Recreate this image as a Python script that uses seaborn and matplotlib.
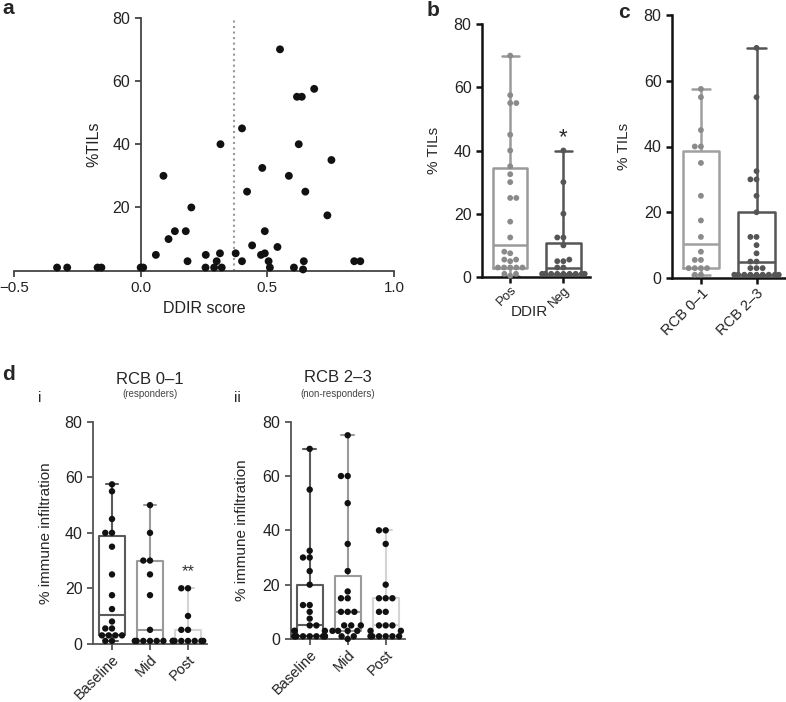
import matplotlib
matplotlib.use("Agg")
import pandas as pd
import matplotlib.pyplot as plt
import seaborn as sns

# panel a: DDIR score vs %TILs
ddir_score = [-0.33, -0.29, -0.17, -0.155, 0.0, 0.01, 0.06, 0.09, 0.11, 0.135, 0.178, 0.185, 0.20,
              0.257, 0.256, 0.29, 0.30, 0.313, 0.32, 0.315, 0.375, 0.40, 0.40, 0.42, 0.44, 0.475,
              0.49, 0.48, 0.49, 0.505, 0.51, 0.54, 0.55, 0.585, 0.605, 0.617, 0.636, 0.624, 0.644,
              0.641, 0.65, 0.685, 0.737, 0.753, 0.843, 0.867]
tils = [1, 1, 1, 1, 1, 1, 5, 30, 10, 12.5, 12.5, 3, 20,
        5, 1, 1, 3, 5.5, 1, 40, 5.5, 45, 3, 25, 8, 5,
        5.5, 32.5, 12.5, 3, 1, 7.5, 70, 30, 1, 55, 55, 40, 3,
        0.4, 25, 57.5, 17.5, 35, 3, 3]
ddir_cut = 0.37

# panels c / d: %TILs by response group and timepoint
rcb01_baseline = [57.5, 55, 45, 40, 40, 35, 25, 17.5, 12.5, 8, 5.5, 5.5, 3, 3, 3, 3, 1, 1]
rcb01_mid = [50, 40, 30, 30, 25, 17.5, 5, 1, 1, 1, 1, 1, 1]
rcb01_post = [20, 20, 10, 5, 5, 1, 1, 1, 1, 1, 1, 1, 1]
rcb23_baseline = [70, 55, 32.5, 30, 30, 25, 20, 12.5, 12.5, 10, 7.5, 5, 5, 3, 3, 3,
                  1, 1, 1, 1, 1, 1, 1, 1, 1]
rcb23_mid = [75, 60, 60, 50, 35, 25, 17.5, 15, 15, 10, 10, 10, 5, 5, 5, 3, 3, 3, 3, 1, 1, 0]
rcb23_post = [40, 40, 35, 20, 15, 15, 15, 10, 10, 5, 5, 5, 3, 3, 1, 1, 1, 1, 1, 1]

ddir_labels = ["Pos", "Neg"]
rcb_labels = ["RCB 0\u20131", "RCB 2\u20133"]
time_labels = ["Baseline", "Mid", "Post"]

sns.set_style("ticks")
plt.rcParams["font.family"] = ["Liberation Sans", "DejaVu Sans"]

W, H = 786, 702
fig = plt.figure(figsize=(W / 100, H / 100), dpi=100)


def axes_px(left, top, right, bottom):
    return fig.add_axes([left / W, 1 - bottom / H, (right - left) / W, (bottom - top) / H])


def tidy(ax, color, lw, size=11.5):
    sns.despine(ax=ax)
    for s in ["left", "bottom"]:
        ax.spines[s].set_color(color)
        ax.spines[s].set_linewidth(lw)
    ax.tick_params(color=color, width=lw, length=4, labelsize=size, labelcolor="#222222")
    ax.set_ylim(0, 80)
    ax.set_yticks([0, 20, 40, 60, 80])


def box_panel(ax, data, order, box_colors, dot_colors, lw, dot_size, width=0.65):
    groups, values = [], []
    for name, vals in zip(order, data):
        groups += [name] * len(vals)
        values += list(vals)
    df = pd.DataFrame({"group": groups, "value": values})
    sns.boxplot(data=df, x="group", y="value", hue="group", order=order, hue_order=order,
                palette=box_colors, fill=False, width=width, whis=(0, 100), linewidth=lw,
                legend=False, ax=ax, zorder=1)
    sns.swarmplot(data=df, x="group", y="value", hue="group", order=order, hue_order=order,
                  palette=dot_colors, size=dot_size, legend=False, ax=ax, zorder=3)
    for c in ax.collections:
        c.set_clip_on(False)
    for ln in ax.lines:
        ln.set_clip_on(False)
    ax.set_xlabel("")


def rotate(ax, size, pad=2):
    ax.tick_params(axis="x", labelsize=size, pad=pad)
    plt.setp(ax.get_xticklabels(), rotation=45, ha="right", rotation_mode="anchor")


# ---- a ----
ax = axes_px(14, 17.7, 394, 270.7)
sns.scatterplot(x=ddir_score, y=tils, color="#111111", s=32, edgecolor="none", ax=ax,
                clip_on=False, zorder=3)
ax.axvline(ddir_cut, color="#999999", ls=":", lw=1.5, zorder=1)
ax.set_xlim(-0.5, 1.0)
tidy(ax, "#444444", 1.3, size=11.5)
ax.tick_params(axis="x", labelsize=10.8)
ax.set_yticks([20, 40, 60, 80])
ax.spines["left"].set_position(("data", 0))
ax.set_xticks([-0.5, 0.0, 0.5, 1.0])
ax.set_xlabel("DDIR score", fontsize=11.5, color="#222222")
ax.set_ylabel("%TILs", fontsize=11.5, color="#222222")
ax.yaxis.set_label_coords(0.229, 0.5)

# ---- b ----
pos = [t for s, t in zip(ddir_score, tils) if s > ddir_cut]
neg = [t for s, t in zip(ddir_score, tils) if s <= ddir_cut]
ax = axes_px(482, 24, 590, 277)
box_panel(ax, [pos, neg], ddir_labels, ["#9a9a9a", "#555555"], ["#8a8a8a", "#555555"], 1.8, 4.2)
tidy(ax, "#111111", 1.8)
ax.set_xlim(-0.53, 1.5)
ax.set_xlabel("DDIR", fontsize=11)
ax.xaxis.set_label_coords(0.44, -0.11)
ax.set_ylabel("% TILs", fontsize=11)
ax.yaxis.set_label_coords(-0.38, 0.5)
ax.text(1, 44, "*", ha="center", va="center", fontsize=16)
rotate(ax, 9.5, pad=1)

# ---- c ----
ax = axes_px(672, 15, 786, 278)
box_panel(ax, [rcb01_baseline, rcb23_baseline], rcb_labels, ["#a0a0a0", "#555555"],
          ["#8a8a8a", "#555555"], 1.8, 4.2)
tidy(ax, "#111111", 1.8)
ax.set_xlim(-0.52, 1.53)
ax.set_ylabel("% TILs", fontsize=11)
ax.yaxis.set_label_coords(-0.36, 0.5)
rotate(ax, 10.5)

# ---- d ----
d_colors = ["#5a5a5a", "#9a9a9a", "#d4d4d4"]
ax = axes_px(93, 422, 207, 643.7)
box_panel(ax, [rcb01_baseline, rcb01_mid, rcb01_post], time_labels, d_colors,
          ["#111111"] * 3, 1.5, 4.6, width=0.68)
tidy(ax, "#555555", 1.3)
ax.set_xlim(-0.5, 2.5)
ax.set_ylabel("% immune infiltration", fontsize=11)
ax.yaxis.set_label_coords(-0.35, 0.5)
ax.text(2, 26, "**", ha="center", va="center", fontsize=12, color="#333333")
rotate(ax, 10.5)

ax2 = axes_px(290.7, 421.7, 404.7, 639)
box_panel(ax2, [rcb23_baseline, rcb23_mid, rcb23_post], time_labels, d_colors,
          ["#111111"] * 3, 1.5, 4.6, width=0.68)
tidy(ax2, "#555555", 1.3)
ax2.set_xlim(-0.5, 2.5)
ax2.set_ylabel("% immune infiltration", fontsize=11)
ax2.yaxis.set_label_coords(-0.37, 0.5)
rotate(ax2, 10.5)

fig.text(150 / W, 1 - 380 / H, "RCB 0\u20131", ha="center", va="center", fontsize=12)
fig.text(150 / W, 1 - 394 / H, "(responders)", ha="center", va="center", fontsize=7,
         color="#444444")
fig.text(338 / W, 1 - 378 / H, "RCB 2\u20133", ha="center", va="center", fontsize=12)
fig.text(338 / W, 1 - 394 / H, "(non-responders)", ha="center", va="center", fontsize=7,
         color="#444444")
fig.text(40 / W, 1 - 398 / H, "i", ha="center", va="center", fontsize=11)
fig.text(237 / W, 1 - 398 / H, "ii", ha="center", va="center", fontsize=11)

for letter, x, y in [("a", 2, 9), ("b", 427, 11), ("c", 618, 13), ("d", 2, 375)]:
    fig.text(x / W, 1 - y / H, letter, ha="left", va="center", fontsize=15, fontweight="bold")

fig.savefig("out.png", dpi=100)
